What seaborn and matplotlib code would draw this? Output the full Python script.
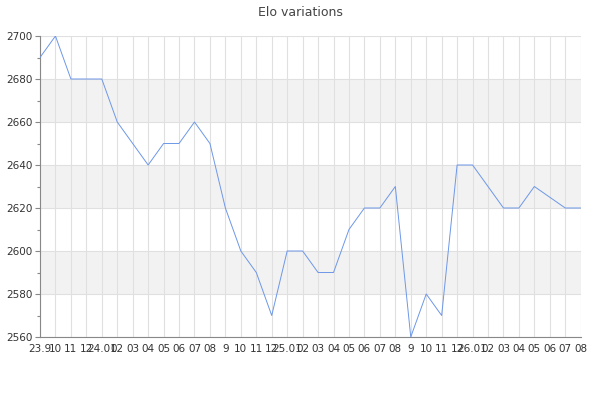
import matplotlib
matplotlib.use("Agg")
import matplotlib.pyplot as plt
import seaborn as sns
import numpy as np
import pandas as pd
from matplotlib.ticker import MultipleLocator

labels = ["23.9", "10", "11", "12", "24.01", "02", "03", "04", "05", "06", "07", "08",
          "9", "10", "11", "12", "25.01", "02", "03", "04", "05", "06", "07", "08",
          "9", "10", "11", "12", "26.01", "02", "03", "04", "05", "06", "07", "08"]
elo = [2690, 2700, 2680, 2680, 2680, 2660, 2650, 2640, 2650, 2650, 2660, 2650,
       2620, 2600, 2590, 2570, 2600, 2600, 2590, 2590, 2610, 2620, 2620, 2630,
       2560, 2580, 2570, 2640, 2640, 2630, 2620, 2620, 2630, 2625, 2620, 2620]

df = pd.DataFrame({"idx": np.arange(len(elo)), "elo": elo})

sns.set_style("white")
plt.rcParams['font.family'] = ['DejaVu Sans']

fig = plt.figure(figsize=(6, 4), dpi=100)
ax = fig.add_axes([40/600, 1-337/400, 540.7/600, 301/400])

for lo in (2580, 2620, 2660):
    ax.axhspan(lo, lo + 20, color="#f2f2f2", zorder=0, lw=0)

sns.lineplot(data=df, x="idx", y="elo", ax=ax, color="#6d97e8", linewidth=0.7, zorder=3)

ax.set_xlim(0, len(elo) - 1)
ax.set_ylim(2560, 2700)
ax.set_xticks(np.arange(len(elo)))
ax.set_xticklabels(labels)
ax.yaxis.set_major_locator(MultipleLocator(20))
ax.yaxis.set_minor_locator(MultipleLocator(10))
ax.grid(True, which="major", color="#e0e0e0", linewidth=0.8, zorder=1)
ax.set_axisbelow(True)
ax.set_xlabel("")
ax.set_ylabel("")

for s in ("top", "right"):
    ax.spines[s].set_visible(False)
for s in ("left", "bottom"):
    ax.spines[s].set_color("#888888")
    ax.spines[s].set_linewidth(0.8)

ax.tick_params(axis="x", length=0, pad=5, labelsize=7.5, labelcolor="#333333")
ax.tick_params(axis="y", which="major", length=3.6, width=0.8, color="#888888",
               pad=2, labelsize=7.5, labelcolor="#333333", left=True)
ax.tick_params(axis="y", which="minor", length=2.2, width=0.8, color="#888888", left=True)

fig.text(0.5, 1 - 12/400, "Elo variations", ha="center", va="center",
         fontsize=9, color="#444444")

fig.savefig("out.png", dpi=100)
